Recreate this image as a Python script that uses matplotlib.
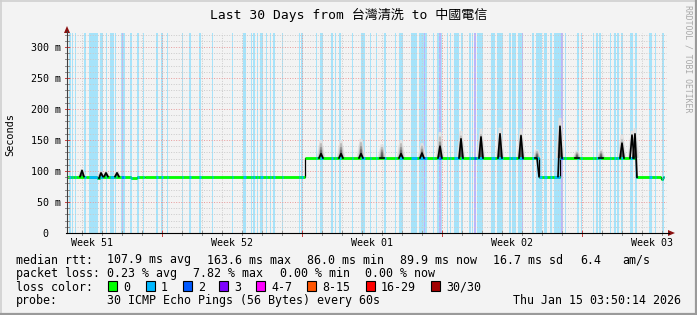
import matplotlib
matplotlib.use("Agg")
import matplotlib.pyplot as plt
from matplotlib.lines import Line2D
from matplotlib.patches import Polygon, Rectangle
import numpy as np

# x values are days from the left edge of the graph, y values are ms
title = "Last 30 Days from 台灣清洗 to 中國電信"

week_labels = ["Week 51", "Week 52", "Week 01", "Week 02", "Week 03"]
week_label_day = [1.265, 8.265, 15.265, 22.265, 29.265]
week_line_day = [4.765, 11.765, 18.765, 25.765]

y_ticks = [0, 50, 100, 150, 200, 250, 300]
y_tick_labels = ["0", "50 m", "100 m", "150 m", "200 m", "250 m", "300 m"]

# median rtt as a step series: interval edges and the value inside each interval
median_edges = [0, 0.95, 1.5, 1.65, 3.2, 3.5, 3.9, 11.9, 23.6, 24.65, 28.45, 29.72, 29.8, 29.85]
median_ms = [91, 90, 88.5, 91, 88, 90, 91, 121, 91, 121, 90, 87, 90]

# short bursts: where, peak of the dense core, top of the smoke
spike_day = [0.75, 1.7, 1.95, 2.5, 12.7, 13.7, 14.7, 15.75, 16.7, 17.75, 18.65,
             19.7, 20.7, 21.65, 22.7, 23.5, 24.65, 25.5, 26.7, 27.75, 28.25, 28.4]
spike_core = [101, 97, 97, 97, 128, 128, 128, 121, 128, 129, 140,
              152, 155, 160, 157, 121, 172, 121, 121, 145, 158, 160]
spike_smoke = [103, 99, 99, 100, 150, 150, 152, 143, 150, 145, 163,
               165, 168, 170, 168, 135, 186, 133, 135, 158, 165, 168]

# periods with 1 lost ping
loss1_bars = [
    (0.085, 0.185), (0.25, 0.30), (0.415, 0.45), (0.825, 0.925), (1.085, 1.55),
    (1.65, 1.785), (1.95, 2.015), (2.15, 2.325), (2.385, 2.45), (2.675, 2.885),
    (3.15, 3.25), (3.5, 3.6), (3.775, 3.85), (4.45, 4.55), (4.685, 4.8),
    (5.0, 5.05), (5.75, 5.815), (6.085, 6.185), (6.585, 6.715), (7.25, 7.315),
    (8.25, 8.315), (8.785, 8.95), (9.185, 9.25), (9.315, 9.385), (9.485, 9.55),
    (9.65, 9.785), (9.95, 10.015), (10.15, 10.215), (10.285, 10.385), (10.75, 10.815),
    (11.585, 11.65), (11.715, 11.815), (12.45, 12.515), (12.65, 12.815), (13.215, 13.315),
    (13.385, 13.45), (13.615, 13.685), (13.785, 13.815), (14.25, 14.315), (14.685, 14.885),
    (15.15, 15.215), (15.45, 15.515), (15.85, 15.95), (16.385, 16.45), (16.615, 16.785),
    (17.215, 17.515), (17.615, 17.985), (18.285, 18.35), (18.515, 18.75), (18.985, 19.05),
    (19.15, 19.215), (19.35, 19.615), (19.685, 19.815), (20.085, 20.185), (20.25, 20.315),
    (20.35, 20.45), (20.515, 20.785), (21.185, 21.385), (21.485, 21.815), (22.085, 22.185),
    (22.25, 22.45), (22.55, 22.815), (23.25, 23.35), (23.45, 23.75), (23.85, 24.015),
    (24.15, 24.25), (24.35, 24.815), (24.885, 24.95), (25.485, 25.615), (25.685, 25.75),
    (26.285, 26.35), (26.45, 26.55), (26.585, 26.685), (27.15, 27.215), (27.35, 27.45),
    (27.515, 27.585), (27.685, 27.785), (28.15, 28.315), (28.415, 28.515), (29.085, 29.25),
    (29.385, 29.45), (29.75, 29.85),
]
# periods with 2 lost pings
loss2_bars = [(2.74, 2.79), (17.84, 17.89), (18.62, 18.7), (20.35, 20.45),
              (22.73, 22.78), (24.69, 24.81)]

loss_labels = ["0", "1", "2", "3", "4-7", "8-15", "16-29", "30/30"]
loss_colors = ["#00ff00", "#00b8ff", "#0059ff", "#7e00ff",
               "#ff00ff", "#ff5500", "#ff0000", "#a10000"]

stats_rtt = ["107.9 ms avg", "163.6 ms max", "86.0 ms min", "89.9 ms now", "16.7 ms sd", "6.4", "am/s"]
stats_loss = ["0.23 % avg", "7.82 % max", "0.00 % min", "0.00 % now"]
probe_text = "30 ICMP Echo Pings (56 Bytes) every 60s"
stamp_text = "Thu Jan 15 03:50:14 2026"

W, H = 697, 315
MONO = "DejaVu Sans Mono"
PX_PER_MS = 0.62

fig = plt.figure(figsize=(W / 100, H / 100), dpi=100, facecolor="#f3f3f3")


def fx(x):
    return x / W


def fy(y):
    return 1 - y / H


def fig_line(xs, ys, **kw):
    fig.add_artist(Line2D([fx(x) for x in xs], [fy(y) for y in ys], **kw))


def ftext(x, y, s, **kw):
    kw.setdefault("family", MONO)
    fig.text(fx(x), fy(y), s, **kw)


ax = fig.add_axes([fx(67), fy(233), 600 / W, 200 / H])
ax.set_facecolor("white")
ax.set_xlim(0, 30)
ax.set_ylim(0, 200 / PX_PER_MS)
ax.axis("off")

# loss stripes
for a, b in loss1_bars:
    ax.axvspan(a, b, color="#a6e3fa", lw=0, zorder=1)
for a, b in loss2_bars:
    ax.axvspan(a, b, color="#bcb4fa", lw=0, zorder=1.1)

# grid
dots = (0, (1.0, 1.6))
for d in np.arange(0.765, 30, 1.0):
    if min(abs(d - w) for w in week_line_day) < 0.01:
        continue
    ax.axvline(d, color="#cacaca", lw=0.7, ls=dots, zorder=2)
for v in range(10, 330, 10):
    if v % 50:
        ax.axhline(v, color="#cacaca", lw=0.7, ls=dots, zorder=2)
for w in week_line_day:
    ax.axvline(w, color="#e89a9a", lw=0.7, ls=dots, zorder=2.1)
for v in y_ticks[1:]:
    ax.axhline(v, color="#e89a9a", lw=0.7, ls=dots, zorder=2.1)


def base_at(x):
    i = np.searchsorted(median_edges, x, side="right") - 1
    i = min(max(i, 0), len(median_ms) - 1)
    return median_ms[i]


# smoke
smoke_shades = ["#e0e0e0", "#bdbdbd", "#8e8e8e", "#555555"]
smoke_half = [0.22, 0.15, 0.1, 0.06]
smoke_frac = [1.0, 0.82, 0.62, 0.45]
for d, top in zip(spike_day, spike_smoke):
    base = base_at(d)
    for shade, hw, fr in zip(smoke_shades, smoke_half, smoke_frac):
        h = base + (top - base) * fr
        ax.add_patch(Polygon([(d - hw, base), (d - hw * 0.3, h), (d + hw * 0.3, h), (d + hw, base)],
                             closed=True, fc=shade, ec="none", zorder=3))

# median: dark step underneath, coloured by loss on top
ax.stairs(median_ms, median_edges, baseline=None, color="black", lw=0.9, zorder=4)
for s, e, v in zip(median_edges[:-1], median_edges[1:], median_ms):
    ax.hlines(v, s, e, color=loss_colors[0], lw=2.0, zorder=5)
    for bars, col in ((loss1_bars, loss_colors[1]), (loss2_bars, loss_colors[2])):
        for a, b in bars:
            lo, hi = max(a, s), min(b, e)
            if hi > lo:
                ax.hlines(v, lo, hi, color=col, lw=2.0, zorder=5.1)

for d, peak in zip(spike_day, spike_core):
    hw = 0.1
    ax.plot([d - hw, d, d + hw], [base_at(d - hw), peak, base_at(d + hw)],
            color="black", lw=1.2, zorder=6)

# axes lines, ticks and arrows
for d in np.arange(0.765, 30, 1.0):
    fig_line([67 + d * 20] * 2, [231, 235], color="#909090", lw=0.7)
for w in week_line_day:
    fig_line([67 + w * 20] * 2, [231, 236], color="#d04040", lw=0.7)
for v in range(10, 330, 10):
    y = 233 - v * PX_PER_MS
    fig_line([65, 69], [y, y], color="#909090" if v % 50 else "#d04040", lw=0.7)
fig_line([67, 67], [233, 31], color="#404040", lw=0.8)
fig_line([66, 669], [233, 233], color="black", lw=0.8)
fig.add_artist(Polygon([(fx(64), fy(33)), (fx(70), fy(33)), (fx(67), fy(26))],
                       closed=True, fc="#8b1010", ec="none"))
fig.add_artist(Polygon([(fx(668), fy(230)), (fx(668), fy(236)), (fx(675), fy(233))],
                       closed=True, fc="#8b1010", ec="none"))

# tick labels
for v, lab in zip(y_ticks, y_tick_labels):
    y = 233 - v * PX_PER_MS
    ftext(61 if v else 48, y + 3.6, lab, ha="right", va="baseline", size=7.2)
for d, lab in zip(week_label_day, week_labels):
    ftext(67 + d * 20, 246, lab, ha="center", va="baseline", size=7.2)

ftext(10, 135, "Seconds", rotation=90, ha="center", va="center", size=7.4)
ftext(688, 5, "RRDTOOL / TOBI OETIKER", rotation=270, ha="center", va="top",
      size=5.9, color="#a8a8a8")
fig.text(0.5, fy(19), title, ha="center", va="baseline", size=9.4,
         family=[MONO, "Noto Sans CJK TC"])

# legend block
LEG = 8.35
ftext(16, 263.5, "median rtt:", size=LEG, va="baseline")
for x, s in zip([107, 207, 307, 400, 493, 580, 622], stats_rtt):
    ftext(x, 263.5, s, size=LEG, va="baseline")
ftext(16, 277, "packet loss:", size=LEG, va="baseline")
for x, s in zip([107, 193, 280, 365], stats_loss):
    ftext(x, 277, s, size=LEG, va="baseline")
ftext(16, 290.7, "loss color:", size=LEG, va="baseline")
box_x = [108, 145.7, 182.7, 219.3, 256, 307.3, 365.7, 431]
for x, col, lab in zip(box_x, loss_colors, loss_labels):
    fig.add_artist(Rectangle((fx(x), fy(291)), 9 / W, 10 / H, fc=col, ec="black", lw=0.8))
    ftext(x + 15, 290.7, lab, size=LEG, va="baseline")
ftext(16, 304.3, "probe:", size=LEG, va="baseline")
ftext(107, 304.3, probe_text, size=LEG, va="baseline")
ftext(513, 304.3, stamp_text, size=LEG, va="baseline")

# image frame
fig_line([0, W], [0.8, 0.8], color="#cfcfcf", lw=1.2)
fig_line([0.8, 0.8], [0, H], color="#cfcfcf", lw=1.2)
fig_line([0, W], [H - 1, H - 1], color="#9a9a9a", lw=1.6)
fig_line([W - 1, W - 1], [0, H], color="#9a9a9a", lw=1.6)

fig.savefig("out.png", dpi=100, facecolor=fig.get_facecolor())
